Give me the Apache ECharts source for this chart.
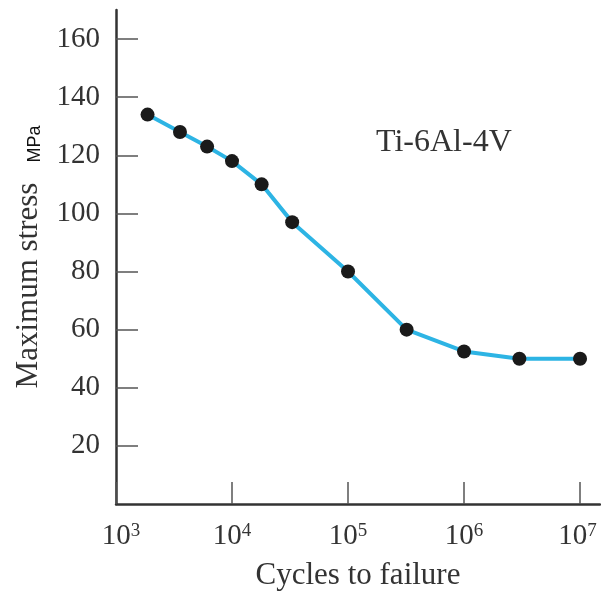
<!DOCTYPE html>
<html>
<head>
<meta charset="utf-8">
<script src="https://cdn.jsdelivr.net/npm/echarts@6/dist/echarts.min.js"></script>
<style>
  html, body { margin: 0; padding: 0; background: #fff; }
  #main { width: 601px; height: 592px; }
</style>
</head>
<body>
<div id="main"></div>
<script>
// cycles to failure and maximum stress in MPa
var cycles = [1870, 3560, 6100, 10000, 18000, 33000, 100000, 320000, 1000000, 3000000, 10000000];
var stress = [134, 128, 123, 118, 110, 97, 80, 60, 52.5, 50, 50];
var xTicks = [1e3, 1e4, 1e5, 1e6, 1e7];
var yTicks = [20, 40, 60, 80, 100, 120, 140, 160];
var alloy = 'Ti-6Al-4V';

var serif = '"Liberation Serif", "Times New Roman", serif';
var ink = '#333';

var points = [];
for (var i = 0; i < cycles.length; i++) {
	points.push([cycles[i], stress[i]]);
}

var myChart = echarts.init(document.getElementById('main'));
var option = {
	animation: false,
	title: {
		text: alloy,
		left: 371,
		top: 122,
		textStyle: { fontFamily: serif, fontWeight: 'normal', fontSize: 32, color: ink }
	},
	grid: { left: 116, right: 1, top: 10, bottom: 88, outerBoundsMode: 'none' },
	xAxis: {
		type: 'log',
		logBase: 10,
		min: 1000,
		max: 14860000,
		name: 'Cycles to failure',
		nameLocation: 'middle',
		nameGap: 56,
		nameTextStyle: { fontFamily: serif, fontSize: 31, color: ink },
		axisLine: { lineStyle: { color: ink, width: 2.5 } },
		axisTick: { inside: true, length: 22, customValues: xTicks, lineStyle: { color: '#555', width: 1.5 } },
		splitLine: { show: false },
		minorTick: { show: false },
		axisLabel: {
			customValues: xTicks,
			margin: 18,
			formatter: function (v) {
				var p = Math.round(Math.log(v) / Math.LN10);
				var s = '{b|10}{s|' + p + '}';
				// first label sits a bit right, last one a bit left (edge of the plot)
				if (p === 3) s = '{padL|}' + s;
				if (p === 7) s = s + '{padR|}';
				return s;
			},
			rich: {
				padL: { width: 10 },
				padR: { width: 5 },
				b: { fontFamily: serif, fontSize: 29, lineHeight: 29, color: ink },
				s: { fontFamily: serif, fontSize: 19, lineHeight: 19, verticalAlign: 'top', color: ink }
			}
		}
	},
	yAxis: {
		type: 'value',
		min: 0,
		max: 170,
		interval: 20,
		name: '{a|Maximum stress}{b|MPa}',
		nameLocation: 'middle',
		nameRotate: 90,
		nameGap: 72,
		nameTextStyle: {
			rich: {
				a: { fontFamily: serif, fontSize: 31, lineHeight: 31, color: ink, verticalAlign: 'bottom' },
				b: { fontFamily: '"Liberation Sans", Arial, sans-serif', fontSize: 18, lineHeight: 24, color: '#111', padding: [0, 0, 0, 20], verticalAlign: 'bottom' }
			}
		},
		axisLine: { show: true, lineStyle: { color: ink, width: 2.5 } },
		axisTick: { show: true, inside: true, length: 22, customValues: yTicks, lineStyle: { color: '#555', width: 1.5 } },
		splitLine: { show: false },
		axisLabel: {
			customValues: yTicks,
			margin: 16,
			fontFamily: serif,
			fontSize: 29,
			color: ink
		}
	},
	series: [
		{
			type: 'line',
			data: points,
			symbol: 'circle',
			symbolSize: 14,
			lineStyle: { color: '#2db4e4', width: 4 },
			itemStyle: { color: '#1a1a1a' },
			z: 3
		}
	]
};
myChart.setOption(option);
</script>
</body>
</html>
